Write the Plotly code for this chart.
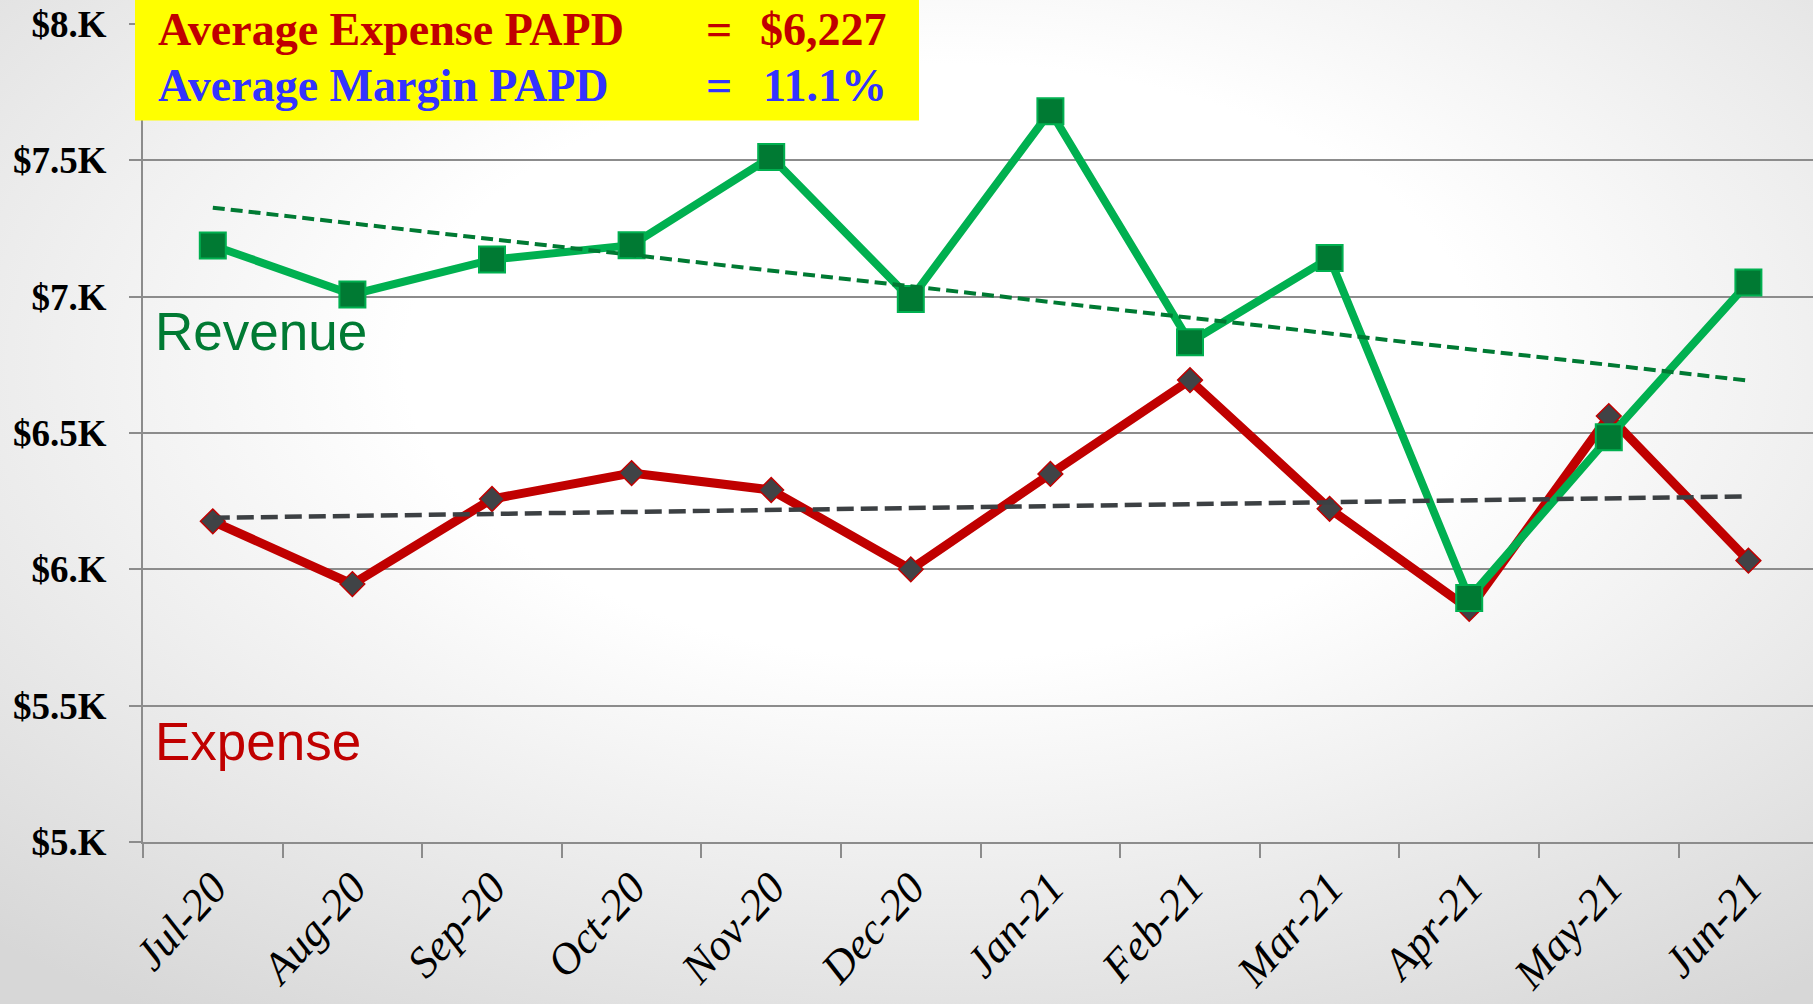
import base64
import numpy as np
import plotly.graph_objects as go

# ---------------- data ----------------
months = ["Jul-20", "Aug-20", "Sep-20", "Oct-20", "Nov-20", "Dec-20",
          "Jan-21", "Feb-21", "Mar-21", "Apr-21", "May-21", "Jun-21"]
revenue = [7188, 7008, 7136, 7189, 7512, 6991, 7680, 6833, 7142, 5895, 6484, 7052]
expense = [6176, 5946, 6258, 6353, 6291, 6000, 6350, 6694, 6222, 5855, 6562, 6032]
y_tick_vals = [5000, 5500, 6000, 6500, 7000, 7500, 8000]
y_tick_text = ["$5.K", "$5.5K", "$6.K", "$6.5K", "$7.K", "$7.5K", "$8.K"]
avg_expense_text = "$6,227"
avg_margin_text = "11.1%"

# linear trendlines (least squares, as in the spreadsheet chart)
idx = np.arange(len(months))
rev_fit = np.polyval(np.polyfit(idx, revenue, 1), idx)
exp_fit = np.polyval(np.polyfit(idx, expense, 1), idx)

# ---------------- layout geometry ----------------
W, H = 1813, 1004
PL, PT, PW, PH = 143, 24, 1670, 818
CAT_W = 139.6


def px(x):
    return (x - PL) / PW


def py(y):
    return (PT + PH - y) / PH


# background radial gradient as inline SVG
svg = (
    "<svg xmlns='http://www.w3.org/2000/svg' width='1813' height='1004' "
    "preserveAspectRatio='none'>"
    "<defs><radialGradient id='g' cx='0.52' cy='0.36' r='0.78'>"
    "<stop offset='0.38' stop-color='#ffffff'/>"
    "<stop offset='1' stop-color='#d7d7d7'/>"
    "</radialGradient></defs>"
    "<rect x='0' y='0' width='1813' height='1004' fill='url(#g)'/></svg>"
)
bg_src = "data:image/svg+xml;base64," + base64.b64encode(svg.encode()).decode()

fig = go.Figure()

fig.add_trace(go.Scatter(
    x=months, y=expense, mode="lines+markers", name="Expense",
    line=dict(color="#c00000", width=9),
    marker=dict(symbol="diamond", size=19, color="#404346",
                line=dict(color="#c00000", width=1.5)),
))
fig.add_trace(go.Scatter(
    x=months, y=revenue, mode="lines+markers", name="Revenue",
    line=dict(color="#00b050", width=8),
    marker=dict(symbol="square", size=26, color="#007a33",
                line=dict(color="#00b050", width=2)),
))
fig.add_trace(go.Scatter(
    x=months, y=exp_fit, mode="lines", name="Expense trend",
    line=dict(color="#3c4043", width=4.5, dash="17px,7px"),
))
fig.add_trace(go.Scatter(
    x=months, y=rev_fit, mode="lines", name="Revenue trend",
    line=dict(color="#007a33", width=4, dash="12px,6px"),
))

serif = "Liberation Serif, Times New Roman, serif"
sans = "Liberation Sans, Arial, sans-serif"
BOX_FS = 46
L1, L2 = 30, 85

annotations = [
    dict(text="Revenue", x=px(155), y=py(331), xanchor="left", yanchor="middle",
         font=dict(family=sans, size=53, color="#007a33")),
    dict(text="Expense", x=px(155), y=py(741), xanchor="left", yanchor="middle",
         font=dict(family=sans, size=53, color="#c00000")),
    dict(text="<b>Average Expense PAPD</b>", x=px(158), y=py(L1), xanchor="left",
         yanchor="middle", font=dict(family=serif, size=BOX_FS, color="#c00000")),
    dict(text="<b>=</b>", x=px(719), y=py(L1), xanchor="center",
         yanchor="middle", font=dict(family=serif, size=BOX_FS, color="#c00000")),
    dict(text="<b>" + avg_expense_text + "</b>", x=px(887), y=py(L1), xanchor="right",
         yanchor="middle", font=dict(family=serif, size=BOX_FS, color="#c00000")),
    dict(text="<b>Average Margin PAPD</b>", x=px(158), y=py(L2), xanchor="left",
         yanchor="middle", font=dict(family=serif, size=BOX_FS, color="#3333ff")),
    dict(text="<b>=</b>", x=px(719), y=py(L2), xanchor="center",
         yanchor="middle", font=dict(family=serif, size=BOX_FS, color="#3333ff")),
    dict(text="<b>" + avg_margin_text + "</b>", x=px(887), y=py(L2), xanchor="right",
         yanchor="middle", font=dict(family=serif, size=BOX_FS, color="#3333ff")),
]
for a in annotations:
    a.update(xref="paper", yref="paper", showarrow=False, borderpad=0, borderwidth=0)

fig.update_layout(
    width=W, height=H,
    margin=dict(l=PL, r=W - PL - PW, t=PT, b=H - PT - PH, pad=0, autoexpand=False),
    paper_bgcolor="#ffffff",
    plot_bgcolor="rgba(0,0,0,0)",
    showlegend=False,
    annotations=annotations,
    shapes=[dict(type="rect", xref="paper", yref="paper",
                 x0=px(135), x1=px(919), y0=py(120.5), y1=py(-10),
                 fillcolor="#ffff00", line=dict(width=0), layer="above")],
    images=[dict(source=bg_src, xref="paper", yref="paper",
                 x=px(0), y=py(0), sizex=px(W) - px(0), sizey=py(0) - py(H),
                 xanchor="left", yanchor="top", sizing="stretch", layer="below")],
)

fig.update_xaxes(
    type="category", range=[-0.5, -0.5 + PW / CAT_W], automargin=False,
    showgrid=False, showline=True, linecolor="#8c8c8c", linewidth=2,
    ticks="outside", ticklen=14, tickcolor="#8c8c8c", tickwidth=2,
    tickson="boundaries", tickangle=-48,
    tickfont=dict(family=serif, size=44, color="#000000", style="italic"),
    zeroline=False,
)
fig.update_yaxes(
    range=[5000, 8000], tickvals=y_tick_vals, ticktext=y_tick_text, automargin=False,
    showgrid=True, gridcolor="#8c8c8c", gridwidth=2,
    showline=True, linecolor="#8c8c8c", linewidth=2,
    ticks="outside", ticklen=12, tickcolor="#8c8c8c", tickwidth=2,
    tickfont=dict(family=serif, size=37, color="#000000", weight="bold"),
    ticklabelstandoff=15, zeroline=False,
)

fig.write_html(
    "out.html",
    config={"displayModeBar": False},
    post_script="document.body.style.margin='0';document.body.style.padding='0';"
                "document.body.style.overflow='hidden';",
)
